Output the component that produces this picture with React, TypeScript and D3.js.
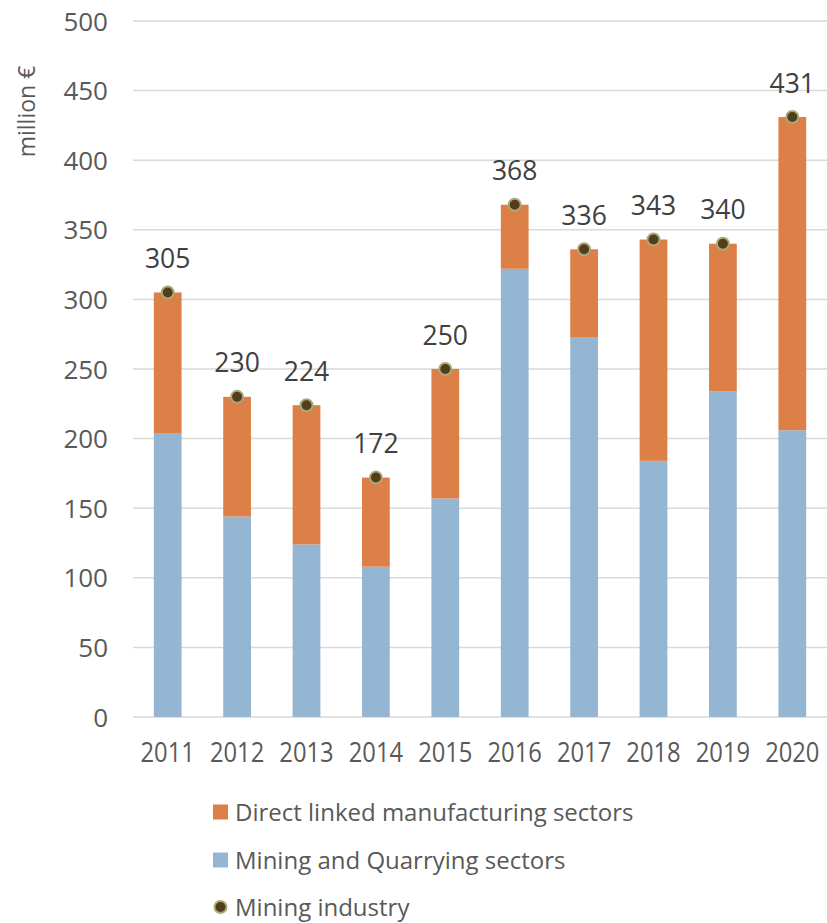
import React from "react";
import * as d3 from "d3";

const years = ["2011", "2012", "2013", "2014", "2015", "2016", "2017", "2018", "2019", "2020"];
const miningQuarrying = [204, 144, 124, 108, 157, 322, 273, 184, 234, 206];
const miningIndustry = [305, 230, 224, 172, 250, 368, 336, 343, 340, 431];
const manufacturing = miningIndustry.map((t, i) => t - miningQuarrying[i]);
const yTicks = [0, 50, 100, 150, 200, 250, 300, 350, 400, 450, 500];

const W = 827;
const H = 923;
const margin = { left: 133, right: 0, top: 21, bottom: 206 };

const BLUE = "#94b6d2";
const ORANGE = "#dd8047";
const DOT_FILL = "#543d1a";
const DOT_STROKE = "#a9a97a";
const FONT = "'Open Sans', 'DejaVu Sans', sans-serif";

export default function App() {
  const x = d3
    .scaleBand<string>()
    .domain(years)
    .range([margin.left, W - margin.right])
    .paddingInner(0.6)
    .paddingOuter(0.3);
  const y = d3.scaleLinear().domain([0, 500]).range([717, margin.top]);
  const bw = x.bandwidth();

  return (
    <svg
      width={W}
      height={H}
      style={{ position: "absolute", left: 0, top: 0, background: "#fff" }}
    >
      {yTicks.map((t) => (
        <g key={t}>
          <line x1={margin.left} x2={W} y1={y(t)} y2={y(t)} stroke="#d9d9d9" strokeWidth={1.5} />
          <text
            x={108}
            y={y(t) + 9.5}
            textAnchor="end"
            fontFamily={FONT}
            fontSize={26}
            fill="#595959"
          >
            {t}
          </text>
        </g>
      ))}
      <text
        transform={`translate(35,111.5) rotate(-90)`}
        textAnchor="middle"
        fontFamily={FONT}
        fontSize={23}
        fill="#595959"
      >
        million €
      </text>

      {years.map((yr, i) => {
        const x0 = x(yr)!;
        return (
          <g key={yr}>
            <rect
              x={x0}
              width={bw}
              y={y(miningQuarrying[i])}
              height={y(0) - y(miningQuarrying[i])}
              fill={BLUE}
            />
            <rect
              x={x0}
              width={bw}
              y={y(miningQuarrying[i] + manufacturing[i])}
              height={y(miningQuarrying[i]) - y(miningQuarrying[i] + manufacturing[i])}
              fill={ORANGE}
            />
          </g>
        );
      })}

      {years.map((yr, i) => {
        const cx = x(yr)! + bw / 2;
        const cy = y(miningIndustry[i]);
        return (
          <g key={"p" + yr}>
            <circle cx={cx} cy={cy} r={6} fill={DOT_FILL} stroke={DOT_STROKE} strokeWidth={2} />
            <text
              x={cx}
              y={cy - 24.5}
              textAnchor="middle"
              fontFamily={FONT}
              fontSize={26.5}
              fill="#404040"
            >
              {miningIndustry[i]}
            </text>
          </g>
        );
      })}

      {years.map((yr) => (
        <text
          key={"x" + yr}
          transform={`translate(${x(yr)! + bw / 2},762) scale(0.88,1)`}
          textAnchor="middle"
          fontFamily={FONT}
          fontSize={27}
          fill="#595959"
        >
          {yr}
        </text>
      ))}

      {[
        { label: "Direct linked manufacturing sectors", kind: "rect", color: ORANGE, yy: 812 },
        { label: "Mining and Quarrying sectors", kind: "rect", color: BLUE, yy: 860 },
        { label: "Mining industry", kind: "dot", color: DOT_FILL, yy: 907 },
      ].map((l) => (
        <g key={l.label}>
          {l.kind === "rect" ? (
            <rect x={213} y={l.yy - 7.5} width={15} height={15} fill={l.color} />
          ) : (
            <circle cx={220.5} cy={l.yy} r={6} fill={DOT_FILL} stroke={DOT_STROKE} strokeWidth={2} />
          )}
          <text
            x={235}
            y={l.yy + 8.5}
            fontFamily={FONT}
            fontSize={24}
            fill="#595959"
          >
            {l.label}
          </text>
        </g>
      ))}
    </svg>
  );
}
